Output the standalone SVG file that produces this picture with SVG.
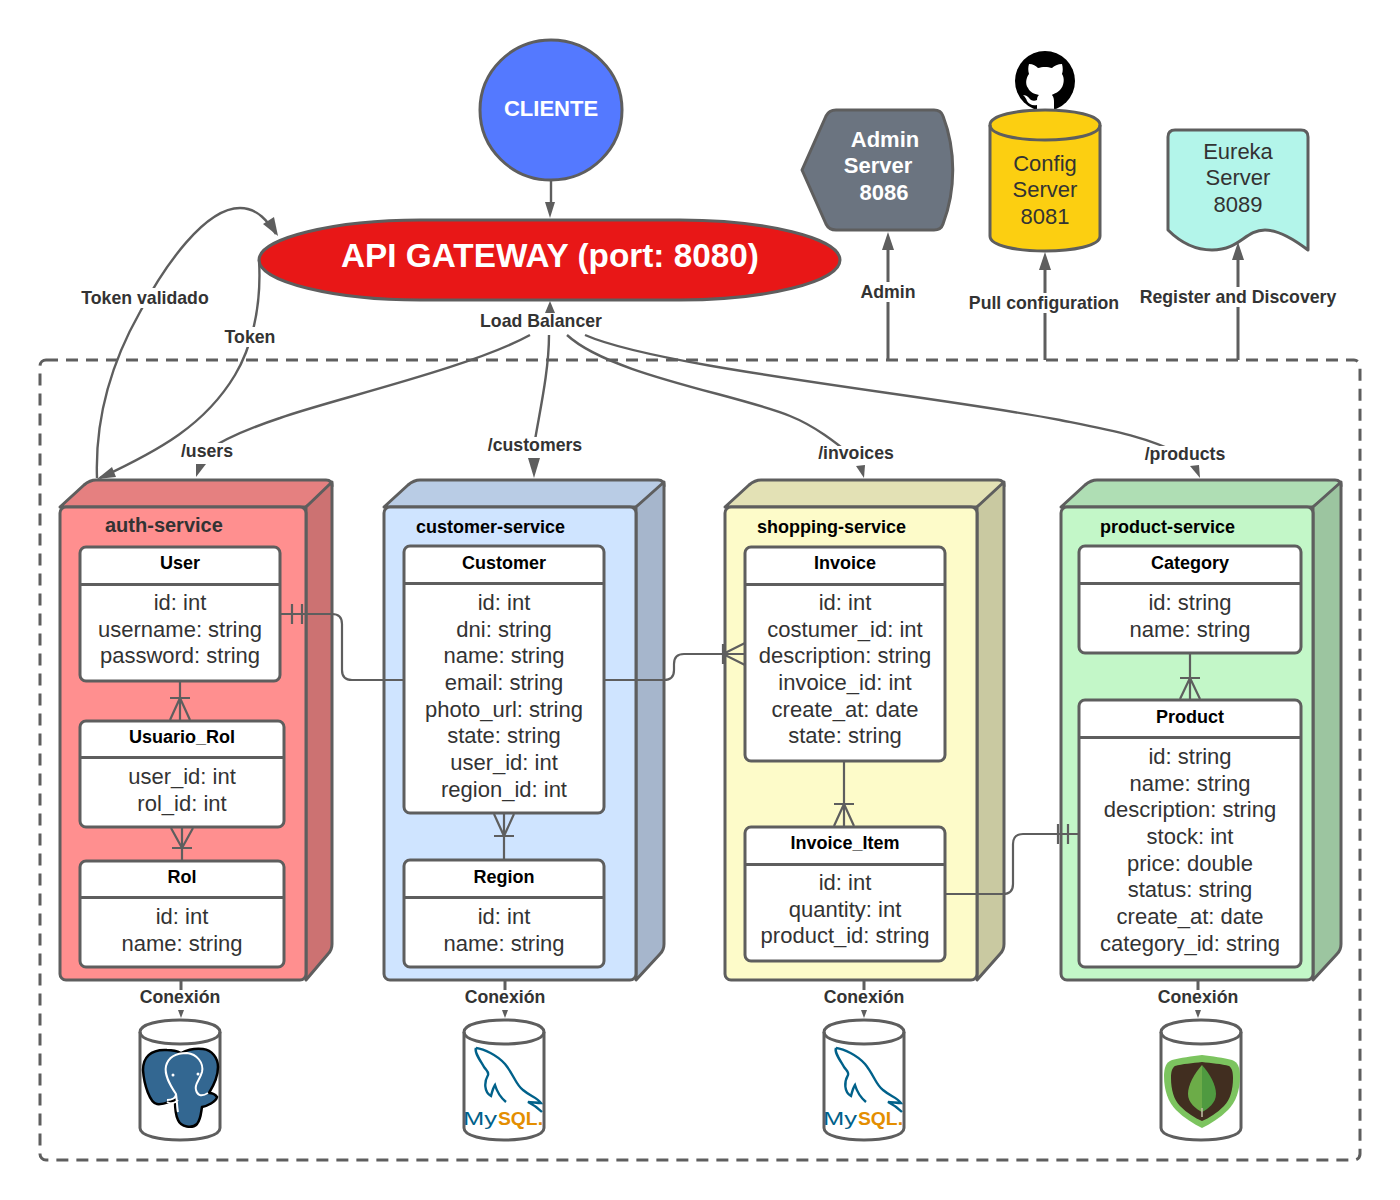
<svg xmlns="http://www.w3.org/2000/svg" xmlns:xlink="http://www.w3.org/1999/xlink" width="1400" height="1200" viewBox="0 0 1400 1200">
<style>
text{font-family:"Liberation Sans",Arial,sans-serif}
.s{stroke:#5e5e5e;stroke-width:3;stroke-linejoin:round}
.t{fill:#fff;stroke:#5e5e5e;stroke-width:3}
.d{stroke:#5e5e5e;stroke-width:3;fill:none}
.a{font-size:22px;fill:#333;text-anchor:middle}
.h{font-size:18px;font-weight:bold;fill:#000;text-anchor:middle}
.n{font-size:18px;font-weight:bold;fill:#000}
.l{font-size:17.7px;font-weight:bold;fill:#333;text-anchor:middle}
.b{fill:#fff;stroke:none}
.c{fill:none;stroke:#5e5e5e;stroke-width:2.4}
.e{fill:none;stroke:#5e5e5e;stroke-width:2.2}
.p{fill:#5e5e5e;stroke:none}
</style>
<defs>
<g id="dolphin">
<path d="M476 1048C484 1049 497 1055 505 1064C514 1075 516 1085 523 1090C530 1096 538 1098 541 1103C537 1103 532 1102 528 1102C534 1105 538 1108 542 1112M476 1048C474 1052 480 1060 484 1067C487 1071 489 1072 488 1075C484 1082 484 1092 491 1096C492 1092 493 1088 495 1085C497 1092 500 1097 506 1102" fill="none" stroke="#00618a" stroke-width="2.400"/>
<text x="463" y="1125" font-size="18" fill="#00618a" textLength="34" lengthAdjust="spacingAndGlyphs">My</text>
<text x="498" y="1125" font-size="18" font-weight="bold" fill="#e48e00" textLength="45" lengthAdjust="spacingAndGlyphs">SQL.</text>
</g>
</defs>

<rect id="boundary" x="40" y="360" width="1320" height="800" rx="6" fill="none" stroke="#5e5e5e" stroke-width="3" stroke-dasharray="12 8"/>

<g id="cliente">
<ellipse cx="551" cy="110" rx="71" ry="70" fill="#5479ff" class="s"/>
<text x="551" y="116" font-size="22" font-weight="bold" fill="#fff" text-anchor="middle">CLIENTE</text>
</g>

<g id="api-gateway">
<path d="M259 260C259 238 335 220 420 220H680C765 220 840 238 840 260C840 282 765 300 680 300H420C335 300 259 282 259 260Z" fill="#e81717" class="s"/>
<text x="550" y="267" font-size="33.33" font-weight="bold" fill="#fff" text-anchor="middle">API GATEWAY (port: 8080)</text>
</g>

<g id="admin-server">
<path d="M802 170L826 116Q829 110 836 110H934Q941 110 943 116C956 150 956 190 943 224Q941 230 934 230H836Q829 230 826 224Z" fill="#6b7480" class="s"/>
<text font-size="22" font-weight="bold" fill="#fff" text-anchor="middle"><tspan x="885" y="146.500">Admin</tspan><tspan x="878" y="173">Server</tspan><tspan x="884" y="199.500">8086</tspan></text>
</g>

<g id="github">
<circle cx="1045" cy="81" r="30" fill="#000"/>
<path d="M1029 64C1033 64 1036 66 1038 68C1042 66.500 1048 66.500 1052 68C1054 66 1058 64 1062 64C1063 68 1063 71 1062 74C1065 78 1064 86 1060 90C1057 93 1053 94 1052 95C1054 97 1054 100 1054 103V112H1037V105C1032 106 1029 104 1027 101C1026 98 1025 97 1023 95C1027 95 1029 98 1031 100C1033 101 1035 101 1037 100C1037 97 1038 96 1039 95C1034 94 1030 92 1028 88C1025 84 1026 78 1029 74C1028 71 1028 67 1029 64Z" fill="#fff"/>
</g>

<g id="config-server">
<path d="M990 125C990 105 1100 105 1100 125V236C1100 256 990 256 990 236Z" fill="#fccf11" class="s"/>
<path d="M990 125C990 145 1100 145 1100 125" fill="none" class="s"/>
<text class="a"><tspan x="1045" y="170.500">Config</tspan><tspan x="1045" y="197">Server</tspan><tspan x="1045" y="223.500">8081</tspan></text>
</g>

<g id="eureka-server">
<path d="M1168 230V137Q1168 130 1175 130H1301Q1308 130 1308 137V250C1295 240 1280 230 1265 230C1245 230 1240 250 1212 250C1195 250 1180 242 1168 230Z" fill="#b3f5ea" class="s"/>
<text class="a"><tspan x="1238" y="158.500">Eureka</tspan><tspan x="1238" y="185">Server</tspan><tspan x="1238" y="211.500">8089</tspan></text>
</g>

<g id="auth-service">
<path d="M60 507L84 485Q90 480 96 480H326Q332 480 332 486L306 507Z" fill="#e58080" class="s"/>
<path d="M306 507L332 482V944Q332 950 328 954L306 980Z" fill="#cc7272" class="s"/>
<rect x="60" y="507" width="246" height="473" rx="6" fill="#ff8f8f" class="s"/>
<text x="105" y="532" font-size="20" font-weight="bold" fill="#333">auth-service</text>
</g>
<g id="customer-service">
<path d="M384 507L408 485Q414 480 420 480H658Q664 480 664 486L636 507Z" fill="#b9cce5" class="s"/>
<path d="M636 507L664 482V944Q664 950 660 954L636 980Z" fill="#a6b6cc" class="s"/>
<rect x="384" y="507" width="252" height="473" rx="6" fill="#cfe4ff" class="s"/>
<text x="416" y="533" class="n">customer-service</text>
</g>
<g id="shopping-service">
<path d="M725 507L749 485Q755 480 761 480H998Q1004 480 1004 486L977 507Z" fill="#e3e1b5" class="s"/>
<path d="M977 507L1004 482V944Q1004 950 1000 954L977 980Z" fill="#c9c9a1" class="s"/>
<rect x="725" y="507" width="252" height="473" rx="6" fill="#fdfbc9" class="s"/>
<text x="757" y="533" class="n">shopping-service</text>
</g>
<g id="product-service">
<path d="M1061 507L1085 485Q1091 480 1097 480H1335Q1341 480 1341 486L1313 507Z" fill="#afdeb4" class="s"/>
<path d="M1313 507L1341 482V944Q1341 950 1337 954L1313 980Z" fill="#9cc5a0" class="s"/>
<rect x="1061" y="507" width="252" height="473" rx="6" fill="#c3f7c8" class="s"/>
<text x="1100" y="533" class="n">product-service</text>
</g>

<g id="connectors">
<path class="c" d="M530 335C470 368 330 400 280 418C250 428 225 438 205 452"/>
<path class="c" d="M549 335C549 370 540 410 535 440"/>
<path class="c" d="M567 335C610 375 740 395 790 416C815 426 835 442 855 458"/>
<path class="c" d="M585 335C660 368 930 395 1060 420C1110 430 1145 436 1185 456"/>
<path class="c" d="M97 478C95 420 110 365 140 312C165 265 205 208 240 208C258 208 268 222 276 234"/>
<path class="c" d="M259 260C262 310 250 350 235 375C205 425 160 450 100 478"/>
<polygon class="p" points="278,236 263,224 274,217"/>
<polygon class="p" points="97,479 112,467 116,477"/>
<polygon class="p" points="196,477 196,464 206,464"/>
<polygon class="p" points="534,478 528,458 540,458"/>
<polygon class="p" points="864,478 856,466 865,465"/>
<polygon class="p" points="1200,478 1190,466 1199,465"/>
<path class="d" d="M888 360V248M1045 360V268M1238 360V258"/>
<polygon class="p" points="888,232 882,250 894,250"/>
<polygon class="p" points="1045,252 1039,270 1051,270"/>
<polygon class="p" points="1238,242 1232,260 1244,260"/>
<path class="c" d="M551 180V202"/>
<polygon class="p" points="550,218 545,202 555,202"/>
<path class="d" d="M181 980V990M505 980V990M864 980V990M1198 980V990"/>
<g class="p"><polygon points="181,1018 178,1010 184,1010"/><polygon points="505,1018 502,1010 508,1010"/><polygon points="864,1018 861,1010 867,1010"/><polygon points="1198,1018 1195,1010 1201,1010"/></g>
</g>

<g id="table-user"><rect class="t" x="80" y="547" width="200" height="134" rx="6"/><path class="d" d="M80 584.500H280"/><text x="180" y="569" class="h">User</text><text class="a"><tspan x="180" y="610">id: int</tspan><tspan x="180" y="636.500">username: string</tspan><tspan x="180" y="663">password: string</tspan></text></g>
<g id="table-usuario-rol"><rect class="t" x="80" y="721" width="204" height="106" rx="6"/><path class="d" d="M80 757.500H284"/><text x="182" y="743" class="h">Usuario_Rol</text><text class="a"><tspan x="182" y="784">user_id: int</tspan><tspan x="182" y="810.500">rol_id: int</tspan></text></g>
<g id="table-rol"><rect class="t" x="80" y="861" width="204" height="106" rx="6"/><path class="d" d="M80 897.500H284"/><text x="182" y="883" class="h">Rol</text><text class="a"><tspan x="182" y="924">id: int</tspan><tspan x="182" y="950.500">name: string</tspan></text></g>

<g id="table-customer"><rect class="t" x="404" y="546" width="200" height="267" rx="6"/><path class="d" d="M404 583.500H604"/><text x="504" y="569" class="h">Customer</text><text class="a"><tspan x="504" y="610">id: int</tspan><tspan x="504" y="636.500">dni: string</tspan><tspan x="504" y="663">name: string</tspan><tspan x="504" y="690">email: string</tspan><tspan x="504" y="716.500">photo_url: string</tspan><tspan x="504" y="743">state: string</tspan><tspan x="504" y="770">user_id: int</tspan><tspan x="504" y="796.500">region_id: int</tspan></text></g>
<g id="table-region"><rect class="t" x="404" y="860" width="200" height="107" rx="6"/><path class="d" d="M404 897.500H604"/><text x="504" y="883" class="h">Region</text><text class="a"><tspan x="504" y="924">id: int</tspan><tspan x="504" y="950.500">name: string</tspan></text></g>

<g id="table-invoice"><rect class="t" x="745" y="547" width="200" height="214" rx="6"/><path class="d" d="M745 584.500H945"/><text x="845" y="569" class="h">Invoice</text><text class="a"><tspan x="845" y="610">id: int</tspan><tspan x="845" y="636.500">costumer_id: int</tspan><tspan x="845" y="663">description: string</tspan><tspan x="845" y="690">invoice_id: int</tspan><tspan x="845" y="716.500">create_at: date</tspan><tspan x="845" y="743">state: string</tspan></text></g>
<g id="table-invoice-item"><rect class="t" x="745" y="827" width="200" height="134" rx="6"/><path class="d" d="M745 864.500H945"/><text x="845" y="849" class="h">Invoice_Item</text><text class="a"><tspan x="845" y="890">id: int</tspan><tspan x="845" y="916.500">quantity: int</tspan><tspan x="845" y="943">product_id: string</tspan></text></g>

<g id="table-category"><rect class="t" x="1079" y="546" width="222" height="107" rx="6"/><path class="d" d="M1079 583.500H1301"/><text x="1190" y="569" class="h">Category</text><text class="a"><tspan x="1190" y="610">id: string</tspan><tspan x="1190" y="636.500">name: string</tspan></text></g>
<g id="table-product"><rect class="t" x="1079" y="700" width="222" height="267" rx="6"/><path class="d" d="M1079 737.500H1301"/><text x="1190" y="723" class="h">Product</text><text class="a"><tspan x="1190" y="764">id: string</tspan><tspan x="1190" y="790.500">name: string</tspan><tspan x="1190" y="817">description: string</tspan><tspan x="1190" y="844">stock: int</tspan><tspan x="1190" y="870.500">price: double</tspan><tspan x="1190" y="897">status: string</tspan><tspan x="1190" y="924">create_at: date</tspan><tspan x="1190" y="950.500">category_id: string</tspan></text></g>

<g id="er-connectors">
<path class="e" d="M280 614H332Q342 614 342 624V670Q342 680 352 680H404M292 604V624M302 604V624"/>
<path class="e" d="M604 680H664Q674 680 674 670V664Q674 654 684 654H745M723 644V664M723 654L745 643M723 654L745 665"/>
<path class="e" d="M945 894H1003Q1013 894 1013 884V844Q1013 834 1023 834H1079M1058 824V844M1068 824V844"/>
<path class="e" d="M180 681V720M170 698H190M180 698L170 720M180 698L190 720"/>
<path class="e" d="M182 828V861M172 848H192M182 848L171 828M182 848L193 828"/>
<path class="e" d="M504 813V860M494 836H514M504 836L494 814M504 836L514 814"/>
<path class="e" d="M844 761V827M834 804H854M844 804L834 826M844 804L854 826"/>
<path class="e" d="M1190 653V700M1180 678H1200M1190 678L1180 699M1190 678L1200 699"/>
</g>

<g id="labels">
<rect class="b" x="80" y="288" width="130" height="20"/><text x="145" y="304" class="l">Token validado</text>
<rect class="b" x="223" y="327" width="54" height="20"/><text x="250" y="343" class="l">Token</text>
<rect class="b" x="478" y="312" width="126" height="21"/><text x="541" y="327" class="l">Load Balancer</text>
<polygon class="p" points="550,301 545,313 555,313"/>
<rect class="b" x="179" y="443" width="56" height="18"/><text x="207" y="457" class="l">/users</text>
<rect class="b" x="486" y="437" width="98" height="18"/><text x="535" y="451" class="l">/customers</text>
<rect class="b" x="816" y="446" width="80" height="17"/><text x="856" y="459" class="l">/invoices</text>
<rect class="b" x="1143" y="446" width="85" height="18"/><text x="1185" y="460" class="l">/products</text>
<rect class="b" x="858" y="282" width="60" height="20"/><text x="888" y="298" class="l">Admin</text>
<rect class="b" x="966" y="293" width="157" height="20"/><text x="1044" y="309" class="l">Pull configuration</text>
<rect class="b" x="1137" y="287" width="202" height="20"/><text x="1238" y="303" class="l">Register and Discovery</text>
<text x="180" y="1003" class="l">Conexión</text>
<text x="505" y="1003" class="l">Conexión</text>
<text x="864" y="1003" class="l">Conexión</text>
<text x="1198" y="1003" class="l">Conexión</text>
</g>

<g id="db-postgres">
<path class="t" d="M140 1032C140 1016 220 1016 220 1032V1128C220 1144 140 1144 140 1128Z"/><path class="d" d="M140 1032C140 1048 220 1048 220 1032"/>
<path d="M167 1050C150 1049 143 1058 143 1070C144 1085 150 1103 157 1104C163 1105 168 1102 175 1100C175 1108 176 1116 178 1120C181 1127 192 1129 197 1124C201 1119 201 1112 202 1107C207 1106 216 1102 217 1097C215 1094 212 1093 209 1093C214 1085 218 1075 218 1067C218 1058 212 1050 203 1049C195 1048 187 1050 181 1053C177 1051 172 1050 167 1050Z" fill="#336791" stroke="#000" stroke-width="2.500"/>
<path d="M167 1100C172 1100 176 1098 176 1094C170 1085 164 1075 166 1066C169 1055 180 1053 187 1053C197 1054 204 1063 202 1072C200 1080 194 1084 196 1090C197 1094 200 1098 208 1093M176 1094C177 1100 177 1108 178 1112M167 1102C172 1105 175 1103 178 1100" fill="none" stroke="#fff" stroke-width="2"/>
<circle cx="173" cy="1075" r="1.500" fill="#fff"/><circle cx="198" cy="1074" r="1.500" fill="#fff"/>
</g>
<g id="db-mysql-1">
<path class="t" d="M464 1032C464 1016 544 1016 544 1032V1128C544 1144 464 1144 464 1128Z"/><path class="d" d="M464 1032C464 1048 544 1048 544 1032"/>
<use href="#dolphin" xlink:href="#dolphin"/>
</g>
<g id="db-mysql-2">
<path class="t" d="M824 1032C824 1016 904 1016 904 1032V1128C904 1144 824 1144 824 1128Z"/><path class="d" d="M824 1032C824 1048 904 1048 904 1032"/>
<use href="#dolphin" xlink:href="#dolphin" transform="translate(360 0)"/>
</g>
<g id="db-mongo">
<path class="t" d="M1161 1032C1161 1016 1241 1016 1241 1032V1128C1241 1144 1161 1144 1161 1128Z"/><path class="d" d="M1161 1032C1161 1048 1241 1048 1241 1032"/>
<path d="M1202 1055C1212 1056 1224 1058 1232 1060C1238 1062 1240 1068 1240 1076C1240 1090 1236 1102 1228 1110C1220 1118 1210 1124 1202 1128C1194 1124 1184 1118 1176 1110C1168 1102 1164 1090 1164 1076C1164 1068 1166 1062 1172 1060C1180 1058 1192 1056 1202 1055Z" fill="#7cc45f"/>
<path d="M1202 1062C1211 1063 1222 1064 1229 1066C1232 1068 1233 1072 1233 1078C1233 1090 1230 1100 1224 1106C1217 1113 1209 1118 1202 1121C1195 1118 1187 1113 1180 1106C1174 1100 1171 1090 1171 1078C1171 1072 1172 1068 1175 1066C1182 1064 1193 1063 1202 1062Z" fill="#412e20"/>
<path d="M1202 1065C1194 1074 1188 1085 1188 1094C1188 1103 1196 1109 1202 1112Z" fill="#6cac48"/>
<path d="M1202 1065C1210 1074 1216 1085 1216 1094C1216 1103 1208 1109 1202 1112Z" fill="#4f9a40"/>
<path d="M1202 1108V1117" stroke="#c2bfa6" stroke-width="1.500"/>
</g>
</svg>
